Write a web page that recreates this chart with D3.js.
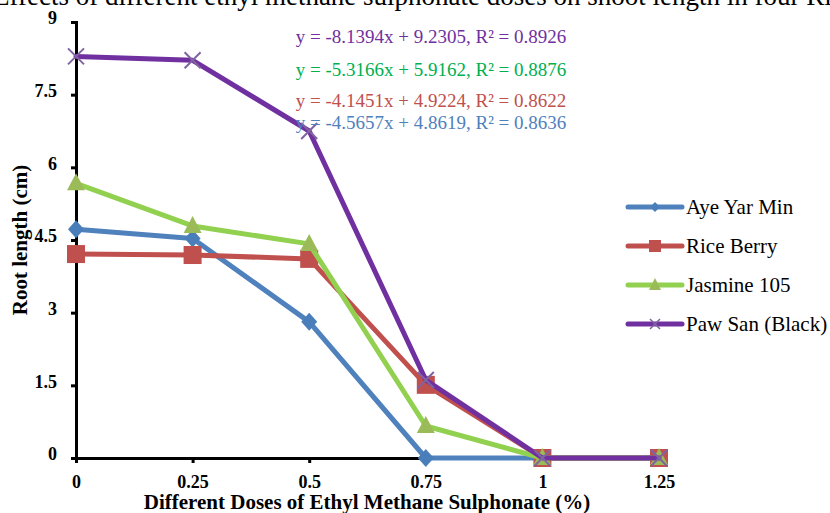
<!DOCTYPE html>
<meta charset="utf-8">
<style>

body {
  margin: 0;
  background: #fff;
}

svg text {
  font-family: "Liberation Serif", "Times New Roman", serif;
}

</style>
<body>
<script src="https://cdn.jsdelivr.net/npm/d3@7"></script>
<script>

// doses of EMS (%)
var doses = [0, 0.25, 0.5, 0.75, 1, 1.25];

var ayeYarMin = [4.72, 4.53, 2.81, 0, 0, 0];
var riceBerry = [4.21, 4.19, 4.11, 1.51, 0, 0];
var jasmine105 = [5.67, 4.79, 4.42, 0.66, 0, 0];
var pawSan = [8.29, 8.21, 6.75, 1.61, 0, 0];

var yTicks = [0, 1.5, 3, 4.5, 6, 7.5, 9];

var seriesNames = ["Aye Yar Min", "Rice Berry", "Jasmine 105", "Paw San (Black)"];

var equations = [
  "y = -8.1394x + 9.2305, R² = 0.8926",
  "y = -5.3166x + 5.9162, R² = 0.8876",
  "y = -4.1451x + 4.9224, R² = 0.8622",
  "y = -4.5657x + 4.8619, R² = 0.8636"
];

var width = 830,
    height = 513;

var serif = "'Liberation Serif', 'Times New Roman', serif";

var series = [
  {name: seriesNames[0], values: ayeYarMin, line: "#4f81bd", fill: "#4a7ebb", symbol: "diamond"},
  {name: seriesNames[1], values: riceBerry, line: "#c0504d", fill: "#c0504d", symbol: "square"},
  {name: seriesNames[2], values: jasmine105, line: "#92d050", fill: "#9bbb59", symbol: "triangle"},
  {name: seriesNames[3], values: pawSan, line: "#7030a0", fill: "#8064a2", symbol: "cross"}
];

var svg = d3.select("body").append("svg")
    .attr("width", width)
    .attr("height", height);

// title, pushed up so only its lower part shows (as in the source image)
svg.append("text")
    .attr("x", -7)
    .attr("y", 5)
    .style("font", "27px " + serif)
    .text("Effects of different ethyl methane sulphonate doses on shoot length in four Rice varieties");

var x = d3.scaleLinear().domain([0, 1.25]).range([76, 659]);
var y = d3.scaleLinear().domain([0, 9]).range([458, 22]);

// axes
var yAxis = svg.append("g")
    .attr("transform", "translate(76,0)")
    .call(d3.axisLeft(y).tickValues(yTicks).tickFormat(d3.format("")).tickSize(5).tickPadding(14));

var xAxis = svg.append("g")
    .attr("transform", "translate(0,458)")
    .call(d3.axisBottom(x).tickValues(doses).tickFormat(d3.format("")).tickSize(5).tickPadding(14));

[xAxis, yAxis].forEach(function(a) {
  a.select(".domain").attr("stroke", "#000").attr("stroke-width", 3);
  a.selectAll(".tick line").attr("stroke", "#000").attr("stroke-width", 3);
  a.selectAll(".tick text")
      .attr("fill", "#000")
      .style("font", "bold 18px " + serif);
});

yAxis.selectAll(".tick text").attr("dy", "0.1em");
xAxis.selectAll(".tick text").attr("dy", "0.6em");

// axis titles
svg.append("text")
    .attr("transform", "translate(27,240) rotate(-90)")
    .attr("text-anchor", "middle")
    .style("font", "bold 21px " + serif)
    .text("Root length (cm)");

svg.append("text")
    .attr("x", 367)
    .attr("y", 509)
    .attr("text-anchor", "middle")
    .style("font", "bold 21px " + serif)
    .text("Different Doses of Ethyl Methane Sulphonate (%)");

var line = d3.line()
    .x(function(d, i) { return x(doses[i]); })
    .y(function(d) { return y(d); });

function drawMarker(g, s, cx, cy) {
  if (s.symbol === "diamond") {
    g.append("path")
        .attr("d", "M0,-9L8,0L0,9L-8,0Z")
        .attr("transform", "translate(" + cx + "," + cy + ")")
        .attr("fill", s.fill);
  } else if (s.symbol === "square") {
    g.append("rect")
        .attr("x", cx - 9).attr("y", cy - 9)
        .attr("width", 18).attr("height", 18)
        .attr("fill", s.fill);
  } else if (s.symbol === "triangle") {
    g.append("path")
        .attr("d", "M0,-10L9,7L-9,7Z")
        .attr("transform", "translate(" + cx + "," + cy + ")")
        .attr("fill", s.fill);
  } else {
    g.append("path")
        .attr("d", "M-8,-8L8,8M8,-8L-8,8")
        .attr("transform", "translate(" + cx + "," + cy + ")")
        .attr("stroke", s.fill)
        .attr("stroke-width", 2);
  }
}

series.forEach(function(s) {
  var g = svg.append("g");
  g.append("path")
      .datum(s.values)
      .attr("fill", "none")
      .attr("stroke", s.line)
      .attr("stroke-width", 5)
      .attr("stroke-linejoin", "round")
      .attr("stroke-linecap", "round")
      .attr("d", line);
  s.values.forEach(function(v, i) {
    drawMarker(g, s, x(doses[i]), y(v));
  });
});

// trendline equations
var eqColors = ["#7030a0", "#00b050", "#c0504d", "#4f81bd"];
var eqY = [43, 76, 107, 129];

equations.forEach(function(e, i) {
  svg.append("text")
      .attr("x", 431)
      .attr("y", eqY[i])
      .attr("text-anchor", "middle")
      .attr("fill", eqColors[i])
      .style("font", "19px " + serif)
      .text(e);
});

// legend
var legend = svg.selectAll(".legend")
    .data(series)
  .enter().append("g")
    .attr("class", "legend")
    .attr("transform", function(d, i) { return "translate(628," + [207, 246, 285, 324][i] + ")"; });

legend.append("line")
    .attr("x1", 0).attr("x2", 54)
    .attr("stroke", function(d) { return d.line; })
    .attr("stroke-width", 5)
    .attr("stroke-linecap", "round");

legend.each(function(d) {
  var g = d3.select(this);
  if (d.symbol === "square") {
    g.append("rect").attr("x", 21).attr("y", -6).attr("width", 12).attr("height", 12).attr("fill", d.fill);
  } else if (d.symbol === "diamond") {
    g.append("path").attr("d", "M27,-5L32,0L27,5L22,0Z").attr("fill", d.fill);
  } else if (d.symbol === "triangle") {
    g.append("path").attr("d", "M27,-7L33,5L21,5Z").attr("fill", d.fill);
  } else {
    g.append("path").attr("d", "M22,-5L32,5M32,-5L22,5").attr("stroke", d.fill).attr("stroke-width", 1.5);
  }
});

legend.append("text")
    .attr("x", 58)
    .attr("dy", "0.35em")
    .style("font", "21px " + serif)
    .text(function(d) { return d.name; });

</script>
